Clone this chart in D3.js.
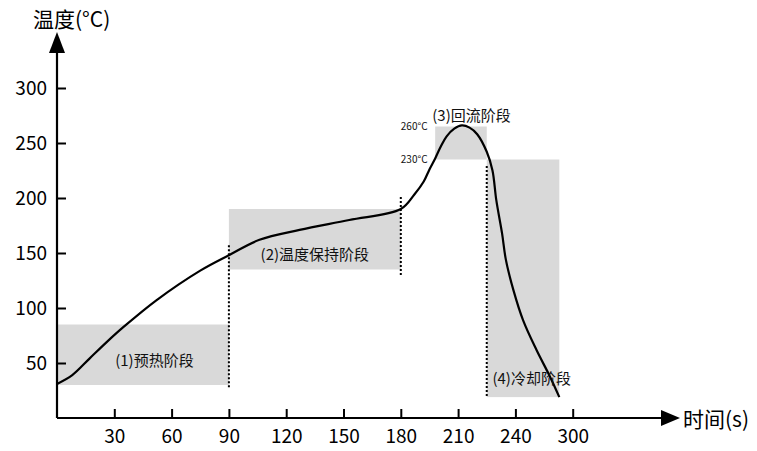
<!DOCTYPE html>
<html>
<head>
<meta charset="utf-8">
<script src="https://cdn.jsdelivr.net/npm/d3@7"></script>
<style>
  body { margin: 0; background: #fff; }
  svg { display: block; font-family: "Noto Sans CJK SC", "Noto Sans", sans-serif; }
</style>
</head>
<body>
<svg id="chart" width="757" height="451"></svg>
<script>
// reflow soldering temperature profile
const timeTicks = [30, 60, 90, 120, 150, 180, 210, 240, 270];
const timeTickLabels = ["30", "60", "90", "120", "150", "180", "210", "240", "300"];
const tempTicks = [50, 100, 150, 200, 250, 300];

const profileTime = [0, 8, 17, 26, 35, 52, 75, 90, 106, 127, 153, 180, 187, 192, 195, 198, 201, 204, 208, 212, 216, 220, 225, 228, 230, 233, 235, 239, 244, 251, 258, 263];
const profileTemp = [31, 39, 54, 69, 83, 107, 134, 148, 162, 171, 180, 190, 203, 215, 226, 236, 247, 256, 263, 266, 264, 258, 242, 225, 198, 168, 144, 116, 89, 62, 38, 19];

const stageNames = ["(1)预热阶段", "(2)温度保持阶段", "(3)回流阶段", "(4)冷却阶段"];
const stageStart = [0, 90, 198, 225];
const stageEnd = [90, 180, 225, 263];
const stageLow = [30, 135, 235, 19];
const stageHigh = [85, 190, 265, 235];
const stageLabelTime = [51, 135, 217, 228];
const stageLabelTemp = [52, 148, 275, 36];

const markerTime = [90, 180, 225];
const markerLow = [27, 130, 19];
const markerHigh = [157, 201, 229];

const levelTemps = [265, 235];
const levelLabels = ["260°C", "230°C"];

const svg = d3.select('#chart');
const x = d3.scaleLinear().domain([0, 300]).range([57, 630]);
const y = d3.scaleLinear().domain([0, 300]).range([418, 88]);

// gray stage boxes
svg.append('g').selectAll('rect')
   .data(stageNames)
   .enter()
   .append('rect')
   .attr('x', (d, i) => x(stageStart[i]))
   .attr('width', (d, i) => x(stageEnd[i]) - x(stageStart[i]))
   .attr('y', (d, i) => y(stageHigh[i]))
   .attr('height', (d, i) => y(stageLow[i]) - y(stageHigh[i]))
   .attr('fill', '#d9d9d9');

// dotted stage boundaries
svg.append('g').selectAll('line')
   .data(markerTime)
   .enter()
   .append('line')
   .attr('x1', d => x(d)).attr('x2', d => x(d))
   .attr('y1', (d, i) => y(markerHigh[i]))
   .attr('y2', (d, i) => y(markerLow[i]))
   .attr('stroke', '#000')
   .attr('stroke-width', 2)
   .attr('stroke-dasharray', '2,2');

// axes
const xAxis = d3.axisBottom(x)
    .tickValues(timeTicks)
    .tickFormat((d, i) => timeTickLabels[i])
    .tickSizeInner(-9).tickSizeOuter(0).tickPadding(12);
const gx = svg.append('g').attr('transform', 'translate(0,418)').call(xAxis);
gx.select('.domain').remove();

const yAxis = d3.axisLeft(y)
    .tickValues(tempTicks)
    .tickSizeInner(-9).tickSizeOuter(0).tickPadding(10);
const gy = svg.append('g').attr('transform', 'translate(57,0)').call(yAxis);
gy.select('.domain').remove();

svg.selectAll('.tick line').attr('stroke', '#000').attr('stroke-width', 2);
svg.selectAll('.tick text').attr('font-size', 19).attr('fill', '#000')
   .attr('font-family', '"Noto Sans CJK SC", sans-serif');

// axis lines with arrow heads
svg.append('line').attr('x1', 57).attr('x2', 664).attr('y1', 418).attr('y2', 418)
   .attr('stroke', '#000').attr('stroke-width', 2.2);
svg.append('path').attr('d', 'M680,418 L661,410 L661,426 Z').attr('fill', '#000');
svg.append('line').attr('x1', 57).attr('x2', 57).attr('y1', 418).attr('y2', 50)
   .attr('stroke', '#000').attr('stroke-width', 2.2);
svg.append('path').attr('d', 'M57,32 L49,53 L65,53 Z').attr('fill', '#000');

svg.append('text').attr('x', 33).attr('y', 27).attr('font-size', 21).text('温度(°C)');
svg.append('text').attr('x', 683).attr('y', 427).attr('font-size', 21).text('时间(s)');

// temperature curve
const line = d3.line()
    .x(d => x(d[0]))
    .y(d => y(d[1]))
    .curve(d3.curveCatmullRom);
svg.append('path')
   .datum(profileTime.map((t, i) => [t, profileTemp[i]]))
   .attr('d', line)
   .attr('fill', 'none')
   .attr('stroke', '#000')
   .attr('stroke-width', 2.2);

// stage labels
svg.append('g').selectAll('text')
   .data(stageNames)
   .enter()
   .append('text')
   .attr('x', (d, i) => x(stageLabelTime[i]))
   .attr('y', (d, i) => y(stageLabelTemp[i]))
   .attr('dy', '0.35em')
   .attr('text-anchor', (d, i) => i === 3 ? 'start' : 'middle')
   .attr('font-size', 15)
   .attr('fill', '#111')
   .text(d => d);

svg.append('g').selectAll('text')
   .data(levelLabels)
   .enter()
   .append('text')
   .attr('x', x(194))
   .attr('y', (d, i) => y(levelTemps[i]))
   .attr('dy', '0.35em')
   .attr('text-anchor', 'end')
   .attr('font-size', 10)
   .attr('fill', '#111')
   .text(d => d);
</script>
</body>
</html>
